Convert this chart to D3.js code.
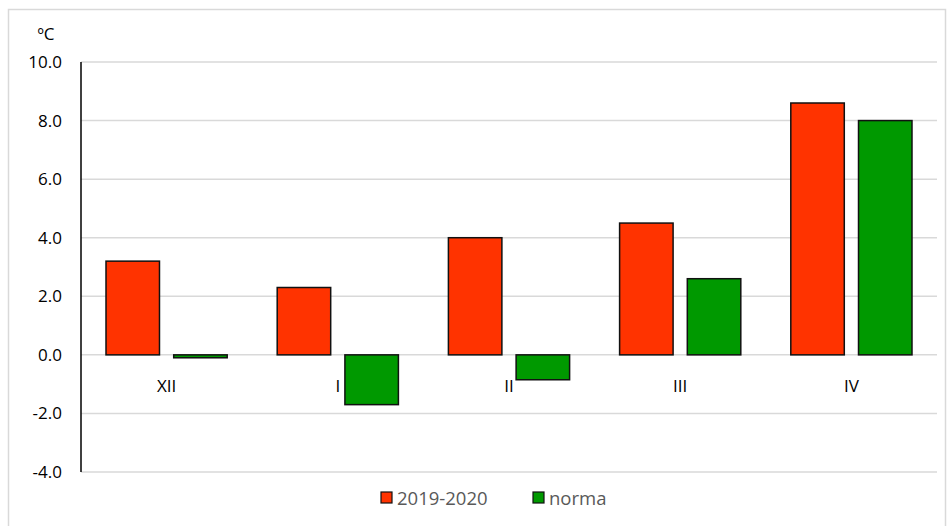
<!DOCTYPE html>
<html><head><meta charset="utf-8">
<script src="https://cdn.jsdelivr.net/npm/d3@7"></script>
<style>body{margin:0;background:#fff;} text{font-family:"Open Sans","Liberation Sans",sans-serif;}</style>
</head><body>
<svg id="c" width="951" height="526"></svg>
<script>
(function(){
const categories = ["XII","I","II","III","IV"];
const series2019 = [3.2, 2.3, 4.0, 4.5, 8.6];
const seriesNorma = [-0.1, -1.7, -0.85, 2.6, 8.0];
const seriesNames = ["2019-2020","norma"];
const seriesColors = ["#FF3300","#009900"];
const yTicks = [-4,-2,0,2,4,6,8,10];

const svg = d3.select("#c");
svg.append("rect").attr("x",8.5).attr("y",9.5).attr("width",937).attr("height",530)
  .attr("fill","#fff").attr("stroke","#d9d9d9").attr("stroke-width",1.5);

const pLeft=81, pRight=937, pTop=62, pBottom=472;
const y = d3.scaleLinear().domain([-4,10]).range([pBottom, pTop]);
const x0 = d3.scaleBand().domain(categories).range([pLeft,pRight]).paddingInner(0).paddingOuter(0);
const x1 = d3.scaleBand().domain(seriesNames).range([25, x0.bandwidth()-25]).paddingInner(0.21);

// grid
svg.append("g").selectAll("line").data(yTicks).join("line")
  .attr("x1",pLeft).attr("x2",pRight).attr("y1",d=>y(d)).attr("y2",d=>y(d))
  .attr("stroke","#d9d9d9").attr("stroke-width",1.5);

// y axis labels
const yAxis = d3.axisLeft(y).tickValues(yTicks).tickFormat(d=>d.toFixed(1)).tickSize(0).tickPadding(19);
const ya = svg.append("g").attr("transform",`translate(${pLeft},0)`).call(yAxis);
ya.select(".domain").remove();
ya.selectAll("text").attr("font-size",17).attr("fill","#000").attr("font-family","'Open Sans',sans-serif");
svg.append("line").attr("x1",pLeft).attr("x2",pLeft).attr("y1",pTop).attr("y2",pBottom)
  .attr("stroke","#000").attr("stroke-width",1.5);

svg.append("text").attr("x",46).attr("y",40).attr("text-anchor","middle")
  .attr("font-size",17).text("ºC");

// bars
const data = categories.map((c,i)=>({c, vals:[series2019[i], seriesNorma[i]]}));
const g = svg.append("g").selectAll("g").data(data).join("g")
  .attr("transform",d=>`translate(${x0(d.c)},0)`);
g.selectAll("rect").data(d=>d.vals.map((v,j)=>({v,j}))).join("rect")
  .attr("x",d=>x1(seriesNames[d.j])).attr("width",x1.bandwidth())
  .attr("y",d=>y(Math.max(0,d.v))).attr("height",d=>Math.abs(y(d.v)-y(0)))
  .attr("fill",d=>seriesColors[d.j]).attr("stroke","#111").attr("stroke-width",1.5);

// category labels
svg.append("g").selectAll("text").data(categories).join("text")
  .attr("x",d=>x0(d)+x0.bandwidth()/2).attr("y",392).attr("text-anchor","middle")
  .attr("font-size",17).text(d=>d);

// legend
const legX=[381,533];
const lg = svg.append("g").selectAll("g").data(seriesNames).join("g")
  .attr("transform",(d,i)=>`translate(${legX[i]},492)`);
lg.append("rect").attr("width",11).attr("height",11).attr("fill",(d,i)=>seriesColors[i])
  .attr("stroke","#111").attr("stroke-width",1.2);
lg.append("text").attr("x",16).attr("y",12.5).attr("font-size",18.5).attr("fill","#595959").text(d=>d);
})();
</script>
</body></html>
